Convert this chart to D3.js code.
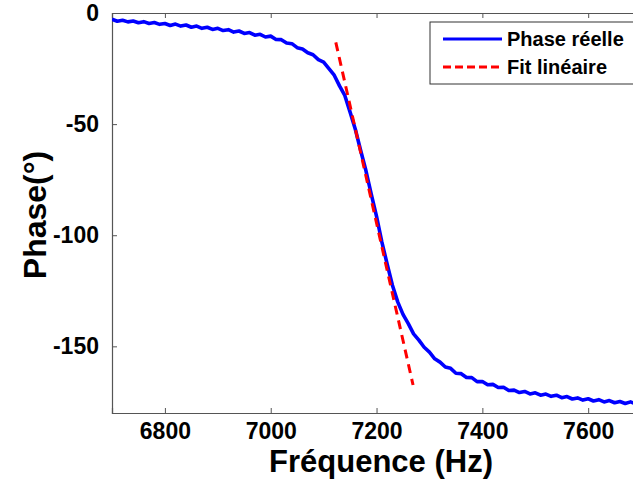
<!DOCTYPE html>
<html>
<head>
<meta charset="utf-8">
<script src="https://cdn.jsdelivr.net/npm/d3@7"></script>
<style>
  html, body { margin: 0; padding: 0; background: #fff; overflow: hidden; }
  svg { display: block; }
  text { font-family: "Liberation Sans", Arial, sans-serif; font-weight: bold; fill: #000; }
</style>
</head>
<body>
<svg id="chart" width="633" height="481"></svg>
<script>
// ---- data ----
const freqHz = [6700,6710,6720,6730,6740,6750,6760,6770,6780,6790,
  6800,6810,6820,6830,6840,6850,6860,6870,6880,6890,
  6900,6910,6920,6930,6940,6950,6960,6970,6980,6990,
  7000,7010,7020,7030,7040,7050,7060,7070,7080,7090,
  7100,7110,7120,7130,7140,7150,7160,7170,7180,7190,
  7200,7210,7220,7230,7240,7250,7260,7270,7280,7290,
  7300,7310,7320,7330,7340,7350,7360,7370,7380,7390,
  7400,7410,7420,7430,7440,7450,7460,7470,7480,7490,
  7500,7510,7520,7530,7540,7550,7560,7570,7580,7590,
  7600,7610,7620,7630,7640,7650,7660,7670,7680,7690];
const phaseReelle = [-2.8,-3.7,-3.3,-4.0,-3.6,-4.4,-3.9,-4.7,-4.3,-5.1,
  -4.7,-5.6,-5.0,-5.9,-5.4,-6.4,-5.9,-6.9,-6.4,-7.4,
  -6.9,-7.9,-7.5,-8.6,-8.1,-9.2,-8.8,-10.0,-9.6,-10.8,
  -10.4,-11.9,-12.0,-13.5,-13.8,-15.6,-16.2,-17.9,-18.8,-21.0,
  -22.1,-25.0,-28.0,-32.8,-37.1,-44.6,-52.4,-61.9,-71.0,-81.5,
  -91.5,-103.0,-112.9,-122.5,-130.0,-135.6,-139.8,-144.4,-147.2,-150.4,
  -152.6,-155.6,-157.1,-159.3,-159.9,-162.1,-162.3,-164.0,-164.1,-165.9,
  -165.8,-167.3,-167.1,-168.5,-168.4,-169.9,-169.7,-170.8,-170.3,-171.4,
  -170.9,-172.0,-171.5,-172.5,-172.0,-173.1,-172.6,-173.7,-173.2,-174.2,
  -173.6,-174.6,-174.0,-175.0,-174.4,-175.4,-174.8,-175.7,-175.0,-175.9];
const fitFreq = [7123, 7269];
const fitPhase = [-13.2, -167.4];
const xTicks = [6800, 7000, 7200, 7400, 7600];
const yTicks = [0, -50, -100, -150];
const legendLabels = ["Phase réelle", "Fit linéaire"];
const xTitle = "Fréquence (Hz)";
const yTitle = "Phase(°)";

// ---- layout ----
const L = 112, T = 13, R = 694, B = 413;
const axisColor = "#555";
const svg = d3.select("#chart");

const x = d3.scaleLinear().domain([6700, 7800]).range([L, R]);
const y = d3.scaleLinear().domain([-180, 0]).range([B, T]);

svg.append("defs").append("clipPath").attr("id", "clip")
  .append("rect").attr("x", L).attr("y", T).attr("width", R - L).attr("height", B - T);

// axes
const xAxisB = d3.axisBottom(x).tickValues(xTicks).tickSize(-5).tickPadding(10).tickFormat(d3.format("d"));
svg.append("g").attr("transform", `translate(0,${B})`).call(xAxisB);
const xAxisT = d3.axisTop(x).tickValues(xTicks).tickSize(-5).tickFormat("");
svg.append("g").attr("transform", `translate(0,${T})`).call(xAxisT);
const yAxisL = d3.axisLeft(y).tickValues(yTicks).tickSize(-5).tickPadding(13).tickFormat(d3.format("d"));
const gyL = svg.append("g").attr("transform", `translate(${L},0)`).call(yAxisL);

svg.selectAll(".domain").attr("stroke", axisColor).attr("stroke-width", 1.2);
svg.selectAll(".tick line").attr("stroke", axisColor);
svg.selectAll(".tick text").style("font-size", "23px").style("font-weight", "bold")
  .style("font-family", "'Liberation Sans', Arial, sans-serif").attr("fill", "#000");
gyL.selectAll(".tick text").text(d => d === 0 ? "0" : "-" + Math.abs(d));

// data lines
const plot = svg.append("g").attr("clip-path", "url(#clip)");
const pts = freqHz.map((f, i) => [f, phaseReelle[i]]);
plot.append("path").datum(pts)
  .attr("fill", "none").attr("stroke", "#0000ff").attr("stroke-width", 3.6)
  .attr("stroke-linejoin", "round")
  .attr("d", d3.line().x(d => x(d[0])).y(d => y(d[1])));

const fitPts = fitFreq.map((f, i) => [f, fitPhase[i]]);
plot.append("path").datum(fitPts)
  .attr("fill", "none").attr("stroke", "#ff0000").attr("stroke-width", 3)
  .attr("stroke-dasharray", "9,6")
  .attr("d", d3.line().x(d => x(d[0])).y(d => y(d[1])));

// titles
svg.append("text").attr("x", 381).attr("y", 472).attr("text-anchor", "middle")
  .style("font-size", "31px").text(xTitle);
svg.append("text").attr("transform", "translate(46,215) rotate(-90)").attr("text-anchor", "middle")
  .style("font-size", "32px").text(yTitle);

// legend
const lg = svg.append("g");
lg.append("rect").attr("x", 430).attr("y", 22).attr("width", 260).attr("height", 62)
  .attr("fill", "#fff").attr("stroke", "#333").attr("stroke-width", 1);
lg.append("line").attr("x1", 443).attr("x2", 502).attr("y1", 39).attr("y2", 39)
  .attr("stroke", "#0000ff").attr("stroke-width", 3);
lg.append("line").attr("x1", 443).attr("x2", 500).attr("y1", 67).attr("y2", 67)
  .attr("stroke", "#ff0000").attr("stroke-width", 3).attr("stroke-dasharray", "8,4");
lg.selectAll("text.lab").data(legendLabels).enter().append("text").attr("class", "lab")
  .attr("x", 507).attr("y", (d, i) => 46 + i * 28)
  .style("font-size", "20px").text(d => d);
</script>
</body>
</html>
